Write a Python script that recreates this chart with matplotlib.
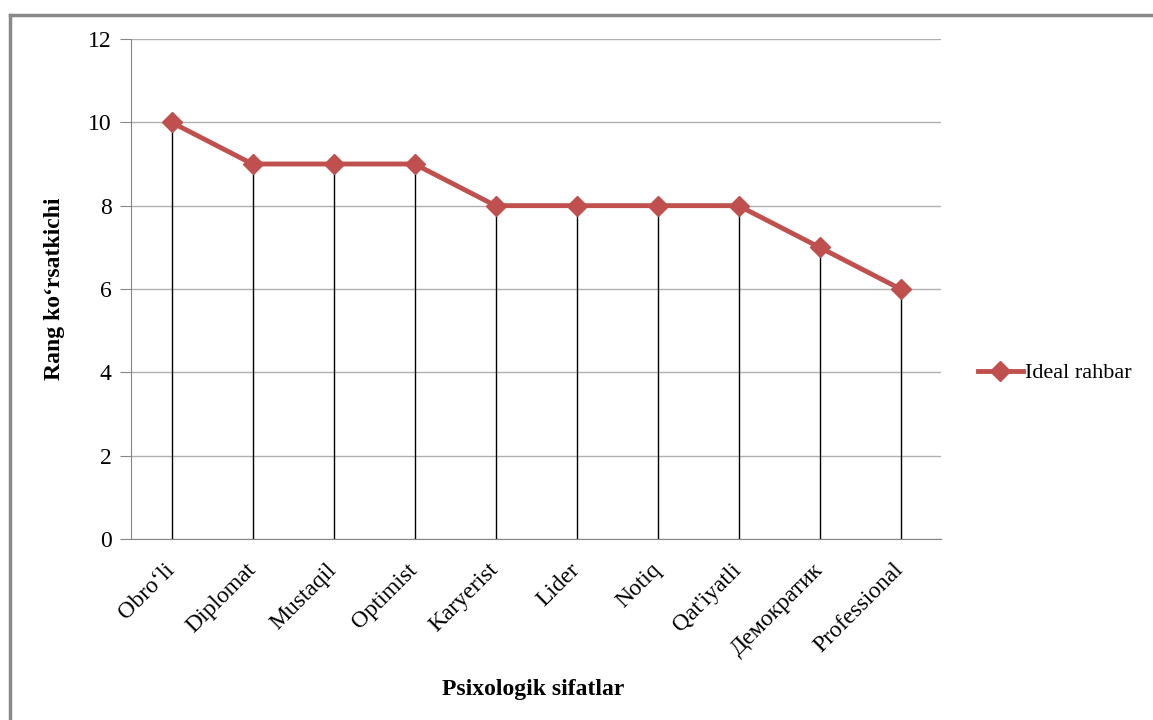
import numpy as np
import matplotlib.pyplot as plt
from matplotlib.lines import Line2D

plt.rcParams['font.family'] = ['Liberation Serif', 'DejaVu Serif']

categories = ['Obro\u2018li', 'Diplomat', 'Mustaqil', 'Optimist', 'Karyerist',
              'Lider', 'Notiq', "Qat'iyatli", '\u0414\u0435\u043c\u043e\u043a\u0440\u0430\u0442\u0438\u043a', 'Professional']
values = [10, 9, 9, 9, 8, 8, 8, 8, 7, 6]
yticks = [0, 2, 4, 6, 8, 10, 12]

fig = plt.figure(figsize=(11.53, 7.2), dpi=100)
ax = fig.add_axes([131 / 1153, 1 - 539 / 720, 810 / 1153, 500 / 720])

x = np.arange(len(categories))

# drop lines
ax.vlines(x, 0, values, color='black', lw=1, zorder=2)
ax.plot(x, values, color='#C0504D', lw=3.5, marker='D', markersize=10,
        label='Ideal rahbar', zorder=3)

ax.set_xlim(-0.5, len(categories) - 0.5)
ax.set_ylim(0, 12)
ax.set_yticks(yticks)
ax.set_xticks(x)
ax.set_xticklabels(categories, rotation=45, ha='right', va='center',
                   rotation_mode='anchor', fontsize=17)
ax.tick_params(axis='x', length=0, pad=20)
ax.tick_params(axis='y', length=8, color='#868686', labelsize=17, pad=6)
ax.yaxis.grid(True, color='#B0B0B0', lw=1)
ax.set_axisbelow(True)

for s in ['top', 'right']:
    ax.spines[s].set_visible(False)
ax.spines['left'].set_color('#868686')
ax.spines['bottom'].set_color('#868686')

ax.set_ylabel('Rang ko\u2018rsatkichi', fontsize=17, fontweight='bold')
ax.yaxis.set_label_coords(-0.081, 0.5)
fig.text(533 / 1153, 1 - 690 / 720, 'Psixologik sifatlar', fontsize=17,
         fontweight='bold', ha='center', va='center')

ax.legend(loc='center left', bbox_to_anchor=(1.035, 0.332), frameon=False,
          fontsize=16, handlelength=2.0, handletextpad=0.1, borderaxespad=0)

# outer chart border (left and top visible)
fig.add_artist(Line2D([10 / 1153, 10 / 1153], [0, 1 - 15 / 720], color='#898989',
                      lw=2.5, transform=fig.transFigure))
fig.add_artist(Line2D([10 / 1153, 1], [1 - 15 / 720, 1 - 15 / 720], color='#898989',
                      lw=2.5, transform=fig.transFigure))

fig.savefig('out.png', dpi=100)
